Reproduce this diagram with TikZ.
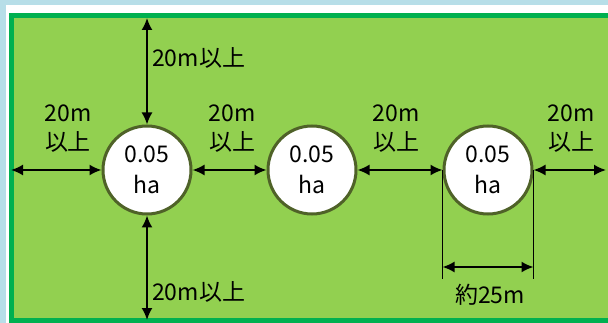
\documentclass[tikz,border=0pt]{standalone}
\usepackage{fontspec}
\setmainfont{Noto Sans CJK JP}
\usetikzlibrary{arrows.meta, positioning}
\definecolor{skyblue}{HTML}{B7DEE8}
\definecolor{fieldgreen}{HTML}{92D050}
\definecolor{bordergreen}{HTML}{00B050}
\definecolor{rimolive}{HTML}{4F6228}
\tikzset{
  plotcircle/.style={
    circle,
    draw=rimolive,
    line width=3pt,
    fill=white,
    minimum size=88pt,
    inner sep=0pt,
    align=center,
    font=\fontsize{23}{31}\selectfont,
  },
  dimtext/.style={
    align=center,
    inner sep=0pt,
    font=\fontsize{23}{29}\selectfont,
  },
  gap/.style={
    {Latex[length=12pt,width=11pt]}-{Latex[length=12pt,width=11pt]},
    line width=1.8pt
  }
}

\begin{document}
\begin{tikzpicture}[
  x=1pt, y=-1pt,
  extline/.style={line width=1.4pt},
  fieldedge/.style={draw=bordergreen, line width=5pt}
]
\useasboundingbox (0,0) rectangle (608,323);

% Hintergrund
\fill[skyblue] (0,0) rectangle (608,323);
\fill[white] (6,5) rectangle (608,323);
\fill[fieldgreen] (9,13) rectangle (608,323);
\draw[fieldedge] (608,15.5) -- (11.5,15.5) -- (11.5,320.5) -- (608,320.5);

% Flaechen
\node[plotcircle] (c1) at (147,170) {0.05\\ha};
\node[plotcircle, right=74pt of c1] (c2) {0.05\\ha};
\node[plotcircle, right=85pt of c2] (c3) {0.05\\ha};

% Raender
\coordinate (edgeW) at (11,170);
\coordinate (edgeE) at (606,170);
\coordinate (edgeN) at (147,18);
\coordinate (edgeS) at (147,320);

% Abstaende
\draw[gap] (edgeW) -- (c1);
\draw[gap] (c1) -- (c2);
\draw[gap] (c2) -- (c3);
\draw[gap] (c3) -- (edgeE);
\draw[gap] (edgeN) -- (c1);
\draw[gap] (c1) -- (edgeS);

% Durchmesser
\coordinate (tickL) at (c3.west |- 0,279);
\coordinate (tickR) at (c3.east |- 0,279);
\coordinate (dimL) at (c3.west |- 0,267);
\coordinate (dimR) at (c3.east |- 0,267);
\draw[extline] (c3.west) -- (tickL);
\draw[extline] (c3.east) -- (tickR);
\draw[gap] (dimL) -- (dimR);

% Beschriftung
\node[dimtext, anchor=west] (tn) at (152,58) {20m以上};
\node[dimtext, anchor=west] (ts) at (152,292) {20m以上};
\node[dimtext] (tw) at (68,129) {20m\\以上};
\node[dimtext] (t12) at (232,129) {20m\\以上};
\node[dimtext] (t23) at (396,129) {20m\\以上};
\node[dimtext] (te) at (571,129) {20m\\以上};
\node[dimtext] (tdim) at (490,295) {約25m};
\end{tikzpicture}
\end{document}
